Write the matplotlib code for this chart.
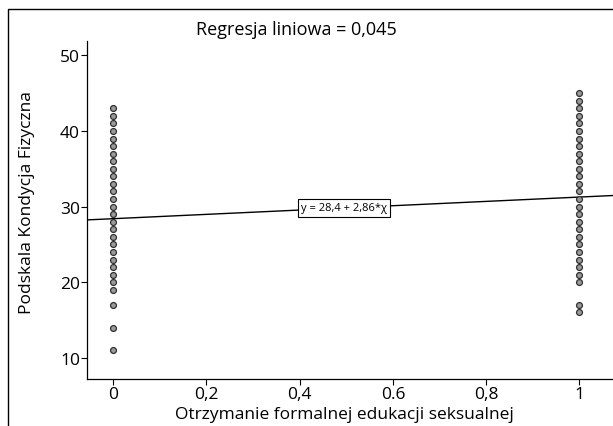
import matplotlib
matplotlib.use("Agg")
import matplotlib.pyplot as plt
from matplotlib.patches import Rectangle

plt.rcParams['font.family'] = ['Open Sans', 'DejaVu Sans']

# scores in group x=0 (no formal sex education) and x=1
group0_scores = list(range(19, 44)) + [17, 14, 11]
group1_scores = list(range(20, 46)) + [17, 16]

intercept = 28.4
slope = 2.86
r2_label = "Regresja liniowa = 0,045"
eq_label = "y = 28,4 + 2,86*\u03c7"

xticks = [0, 0.2, 0.4, 0.6, 0.8, 1]
xticklabels = ["0", "0,2", "0,4", "0.6", "0,8", "1"]
yticks = [10, 20, 30, 40, 50]

fig = plt.figure(figsize=(6.13, 4.27), dpi=100)
# outer frame (cropped on right and bottom)
fig.patches.append(Rectangle((8 / 613, -0.1), 1.2, 1.1 - 10 / 427,
                             transform=fig.transFigure, fill=False,
                             edgecolor='black', linewidth=1.0))

ax = fig.add_axes([87 / 613, 1 - 380 / 427, 560 / 613, 338 / 427])

ax.scatter([0] * len(group0_scores), group0_scores, s=18, facecolor='#9a9a9a',
           edgecolor='#303030', linewidth=0.9, zorder=3)
ax.scatter([1] * len(group1_scores), group1_scores, s=18, facecolor='#9a9a9a',
           edgecolor='#303030', linewidth=0.9, zorder=3)

x_min, x_max = -0.056, 1.145
ax.plot([x_min, x_max], [intercept + slope * x_min, intercept + slope * x_max],
        color='black', linewidth=1.0, zorder=2)

xm = 0.495
ax.text(xm, intercept + slope * xm, eq_label, fontsize=8, ha='center', va='center',
        bbox=dict(boxstyle='square,pad=0.3', facecolor='white', edgecolor='black',
                  linewidth=0.8), zorder=4)

ax.set_xlim(x_min, x_max)
ax.set_ylim(7.2, 51.9)
ax.set_xticks(xticks)
ax.set_xticklabels(xticklabels)
ax.set_yticks(yticks)
ax.tick_params(labelsize=12.5, length=4, width=0.8, direction='out', pad=1)
for s in ['top', 'right']:
    ax.spines[s].set_visible(False)
for s in ['left', 'bottom']:
    ax.spines[s].set_linewidth(0.9)

ax.set_xlabel("Otrzymanie formalnej edukacji seksualnej", fontsize=12.5, labelpad=0)
ax.xaxis.set_label_coords(0.459, -0.08)
ax.set_ylabel("Podskala Kondycja Fizyczna", fontsize=12.5, labelpad=8)
ax.yaxis.set_label_coords(-0.092, 0.524)

fig.text(296 / 613, 1 - 30 / 427, r2_label, fontsize=13, ha='center', va='center')

fig.savefig("out.png", dpi=100)
